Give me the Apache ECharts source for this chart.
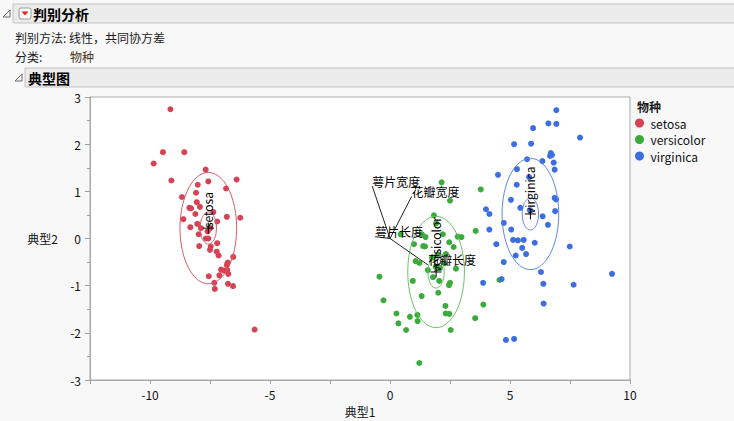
<!DOCTYPE html>
<html><head><meta charset="utf-8">
<script src="https://cdn.jsdelivr.net/npm/echarts@6/dist/echarts.min.js"></script>
<style>html,body{margin:0;padding:0;background:#f8f8f8;} #c{width:734px;height:421px;}</style>
</head><body><div id="c"></div>
<script>
const speciesNames = ['setosa', 'versicolor', 'virginica'];
const setosaX = [-9.15,-9.46,-8.57,-9.85,-7.68,-6.39,-9.11,-7.57,-8.01,-6.83,-8.08,-8.67,-8.05,-7.92,-8.36,-8.29,-7.36,-8.11,-6.80,-6.24,-8.61,-7.20,-8.03,-8.32,-7.88,-7.49,-7.97,-7.67,-7.57,-7.20,-7.95,-7.47,-7.50,-7.22,-7.14,-6.53,-6.76,-6.80,-7.04,-6.92,-6.78,-6.74,-7.11,-7.55,-7.32,-6.75,-6.54,-7.30,-5.64,-7.60];
const setosaY = [2.74,1.83,1.83,1.59,1.46,1.25,1.23,1.21,1.14,1.06,0.97,0.88,0.77,0.67,0.65,0.64,0.56,0.52,0.46,0.44,0.41,0.36,0.31,0.24,0.22,0.22,0.09,0.00,0.00,-0.10,-0.16,-0.17,-0.24,-0.28,-0.36,-0.39,-0.51,-0.56,-0.66,-0.68,-0.67,-0.75,-0.78,-0.80,-0.94,-0.96,-1.01,-1.07,-1.93,0.15];
const versicolorX = [2.15,3.78,2.50,1.83,1.92,3.57,0.44,1.33,2.20,2.82,2.98,1.48,2.47,2.65,1.38,1.46,2.01,2.33,1.07,1.23,2.75,-0.44,0.95,2.05,2.50,2.46,1.32,2.01,-0.27,2.31,3.89,0.27,0.83,1.14,1.15,2.32,2.47,3.55,0.35,2.53,0.67,1.22,4.56,1.79,2.08,1.58,1.00,1.75,2.25,1.90];
const versicolorY = [1.19,1.04,0.80,0.49,0.32,0.16,0.09,0.09,0.09,0.04,0.03,0.03,-0.08,-0.18,-0.16,-0.17,-0.34,-0.33,-0.48,-0.52,-0.64,-0.81,-0.90,-0.90,-0.94,-0.99,-1.22,-1.15,-1.31,-1.43,-1.40,-1.59,-1.66,-1.62,-1.75,-1.59,-1.60,-1.69,-1.80,-1.94,-1.94,-2.64,-0.88,-0.82,-0.63,-0.67,-0.12,-0.41,-0.52,-0.60];
const virginicaX = [6.93,6.60,6.93,5.96,5.17,5.88,6.70,6.75,6.67,5.71,6.35,6.82,6.86,5.29,4.50,5.80,5.28,5.04,6.86,6.92,5.43,4.00,4.14,6.88,6.36,4.74,6.58,4.14,5.05,5.13,5.33,5.57,4.43,5.51,6.03,5.24,5.67,4.74,6.29,3.88,4.65,6.39,6.40,4.83,5.17,7.92,7.49,9.25,7.65,5.83];
const virginicaY = [2.72,2.44,2.43,2.34,2.00,2.01,1.81,1.77,1.75,1.68,1.64,1.61,1.46,1.47,1.35,1.30,1.14,0.82,0.86,0.83,0.65,0.62,0.52,0.58,0.47,0.33,0.29,0.19,0.19,-0.03,-0.04,-0.03,-0.12,-0.20,-0.09,-0.36,-0.33,-0.50,-0.71,-0.94,-0.86,-0.96,-1.38,-2.15,-2.13,2.14,-0.17,-0.75,-0.98,0.60];
const centroidX = [-7.57, 1.92, 5.85];
const centroidY = [0.22, -0.71, 0.52];
const outerRadius = [1.18, 1.18, 1.18];
const innerRadius = [0.34, 0.34, 0.34];
const rayNames = ['萼片宽度', '花瓣宽度', '萼片长度', '花瓣长度'];
const rayX = [-0.74, 0.90, -0.62, 1.58];
const rayY = [1.11, 0.89, 0.04, -0.56];
const xTickLabels = [-10, -5, 0, 5, 10];
const yTickLabels = [-3, -2, -1, 0, 1, 2, 3];

const FONT = "'Noto Sans CJK SC','Noto Sans',sans-serif";
const pointColors = ['#d64253', '#3bab3b', '#3c6ee0'];
const ellipseColors = ['#d9596a', '#66c266', '#5c86e6'];
const groupsX = [setosaX, versicolorX, virginicaX];
const groupsY = [setosaY, versicolorY, virginicaY];

const chart = echarts.init(document.getElementById('c'), null, {renderer: 'svg'});

const scatterSeries = speciesNames.map((n, i) => ({
  name: n, type: 'scatter', symbolSize: 6, z: 2,
  itemStyle: {color: pointColors[i], opacity: 1},
  data: groupsX[i].map((x, j) => [x, groupsY[i][j]])
}));

function ellipsePoints(api, cx, cy, r) {
  const pts = [];
  for (let k = 0; k < 96; k++) {
    const t = k / 96 * Math.PI * 2;
    pts.push(api.coord([cx + r * Math.cos(t), cy + r * Math.sin(t)]));
  }
  return pts;
}

const contourSeries = {
  type: 'custom', name: 'contours', z: 4, silent: true,
  data: centroidX.map((x, i) => [x, centroidY[i], i]),
  renderItem: function (params, api) {
    const i = api.value(2);
    const cx = api.value(0), cy = api.value(1);
    const c = api.coord([cx, cy]);
    return {
      type: 'group', children: [
        {type: 'polygon', shape: {points: ellipsePoints(api, cx, cy, outerRadius[i])}, style: {fill: 'none', stroke: ellipseColors[i], lineWidth: 1}},
        {type: 'polygon', shape: {points: ellipsePoints(api, cx, cy, innerRadius[i])}, style: {fill: 'none', stroke: ellipseColors[i], lineWidth: 1}},
        {type: 'line', shape: {x1: c[0] - 5.5, y1: c[1], x2: c[0] + 5.5, y2: c[1]}, style: {stroke: '#000', lineWidth: 1}},
        {type: 'line', shape: {x1: c[0], y1: c[1] - 5.5, x2: c[0], y2: c[1] + 5.5}, style: {stroke: '#000', lineWidth: 1}},
        {type: 'text', x: c[0] - 1, y: c[1], rotation: Math.PI / 2,
          style: {text: speciesNames[i], fill: '#000', fontSize: 12, fontFamily: FONT, align: 'left', verticalAlign: 'middle'}}
      ]
    };
  }
};

const raySeries = {
  type: 'custom', name: 'rays', z: 5, silent: true,
  data: rayX.map((x, i) => [x, rayY[i], i]),
  renderItem: function (params, api) {
    const i = api.value(2);
    const o = api.coord([0, 0]);
    const e = api.coord([api.value(0), api.value(1)]);
    return {
      type: 'group', children: [
        {type: 'line', shape: {x1: o[0], y1: o[1], x2: e[0], y2: e[1]}, style: {stroke: '#222', lineWidth: 1}},
        {type: 'text', x: e[0], y: e[1] + 1, style: {text: rayNames[i], fill: '#000', fontSize: 12, fontFamily: FONT, align: 'left', verticalAlign: 'bottom'}}
      ]
    };
  }
};

function triangle(x, y) {
  return {type: 'polygon', shape: {points: [[x, y + 7], [x + 7, y], [x + 7, y + 7]]}, style: {fill: 'none', stroke: '#6a6a6a', lineWidth: 1}};
}

const option = {
  backgroundColor: '#f8f8f8',
  animation: false,
  textStyle: {fontFamily: FONT},
  grid: {left: 90, top: 97, width: 540, height: 283, show: true, backgroundColor: '#ffffff', borderColor: '#a8a8a8', borderWidth: 1, outerBoundsMode: 'none', containLabel: false},
  xAxis: {
    type: 'value', min: -12.5, max: 10, interval: 2.5,
    name: '典型1', nameLocation: 'middle', nameGap: 25,
    nameTextStyle: {color: '#111', fontSize: 12, fontFamily: FONT},
    axisLine: {show: true, onZero: false, lineStyle: {color: '#a8a8a8'}},
    axisTick: {show: true, length: 4, lineStyle: {color: '#a0a0a0'}},
    axisLabel: {color: '#111', fontSize: 12, margin: 8, fontFamily: FONT,
      formatter: v => (xTickLabels.indexOf(Math.round(v * 100) / 100) >= 0 ? String(Math.round(v)) : '')},
    splitLine: {show: false}
  },
  yAxis: {
    type: 'value', min: -3, max: 3, interval: 1,
    name: '典型2', nameLocation: 'middle', nameGap: 32, nameRotate: 0,
    nameTextStyle: {color: '#111', fontSize: 12, fontFamily: FONT},
    axisLine: {show: true, onZero: false, lineStyle: {color: '#a8a8a8'}},
    axisTick: {show: true, length: 5, lineStyle: {color: '#a0a0a0'}},
    minorTick: {show: true, splitNumber: 2, length: 3, lineStyle: {color: '#a0a0a0'}},
    axisLabel: {color: '#111', fontSize: 12, margin: 9, fontFamily: FONT,
      formatter: v => (yTickLabels.indexOf(v) >= 0 ? String(v) : '')},
    splitLine: {show: false}
  },
  legend: {
    data: speciesNames, orient: 'vertical', left: 635, top: 117, padding: 0,
    icon: 'circle', itemWidth: 12, itemHeight: 9, itemGap: 4.5,
    textStyle: {color: '#111', fontSize: 12, fontFamily: FONT},
    selectedMode: false
  },
  graphic: [
    triangle(3, 10),
    {type: 'rect', shape: {x: 13, y: 4, width: 730, height: 19}, style: {fill: '#ebebeb', stroke: '#c4c4c4', lineWidth: 1}},
    {type: 'rect', shape: {x: 19, y: 8, width: 12, height: 11, r: 2}, style: {fill: '#fdfdfd', stroke: '#9a9a9a', lineWidth: 1}},
    {type: 'polygon', shape: {points: [[21.5, 11.5], [28.5, 11.5], [25, 15.5]]}, style: {fill: '#e0201c'}},
    {type: 'text', x: 33, y: 14, style: {text: '判别分析', fill: '#000', fontSize: 14, fontWeight: 'bold', fontFamily: FONT, verticalAlign: 'middle'}},
    {type: 'text', x: 15, y: 37, style: {text: '判别方法: 线性，共同协方差', fill: '#1a1a1a', fontSize: 12, fontFamily: FONT, verticalAlign: 'middle'}},
    {type: 'text', x: 15, y: 56, style: {text: '分类:', fill: '#1a1a1a', fontSize: 12, fontFamily: FONT, verticalAlign: 'middle'}},
    {type: 'text', x: 70, y: 56, style: {text: '物种', fill: '#4a3418', fontSize: 12, fontFamily: FONT, verticalAlign: 'middle'}},
    triangle(15, 74),
    {type: 'rect', shape: {x: 25, y: 68, width: 718, height: 19}, style: {fill: '#ebebeb', stroke: '#c4c4c4', lineWidth: 1}},
    {type: 'text', x: 28, y: 78, style: {text: '典型图', fill: '#000', fontSize: 14, fontWeight: 'bold', fontFamily: FONT, verticalAlign: 'middle'}},
    {type: 'text', x: 637, y: 106, style: {text: '物种', fill: '#1a1a1a', fontSize: 12, fontWeight: 'bold', fontFamily: FONT, verticalAlign: 'middle'}}
  ],
  series: scatterSeries.concat([contourSeries, raySeries])
};
chart.setOption(option);
</script>
</body></html>
